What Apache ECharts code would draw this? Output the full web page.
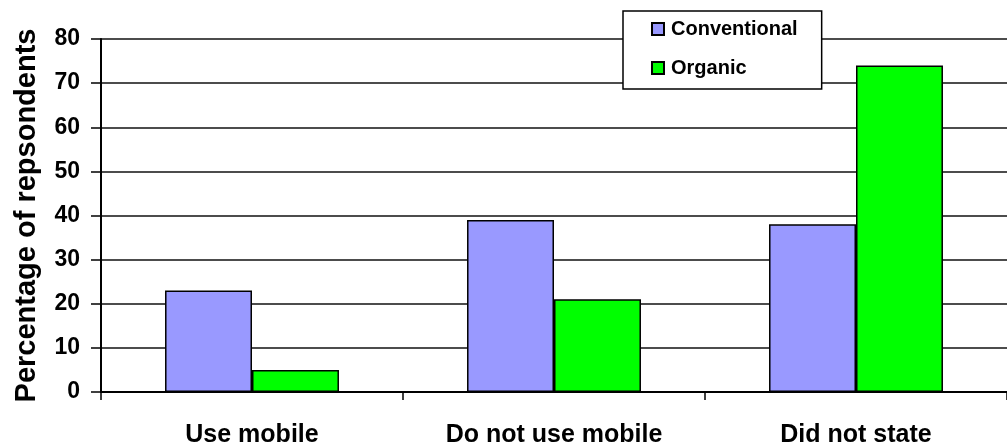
<!DOCTYPE html>
<html>
<head>
<meta charset="utf-8">
<script src="https://cdn.jsdelivr.net/npm/echarts@6/dist/echarts.min.js"></script>
<style>
html,body{margin:0;padding:0;background:#fff;}
#chart{width:1007px;height:448px;}
</style>
</head>
<body>
<div id="chart"></div>
<script>
const categories = ["Use mobile", "Do not use mobile", "Did not state"];
const conventional = [23, 39, 38];
const organic = [5, 21, 74];
const yTicks = [0, 10, 20, 30, 40, 50, 60, 70, 80];
const yAxisName = "Percentage of repsondents";

const FONT = '"Liberation Sans", Arial, sans-serif';
const chart = echarts.init(document.getElementById('chart'), null, {renderer: 'canvas'});
chart.setOption({
  animation: false,
  backgroundColor: '#fff',
  grid: {left: 101, right: 0, top: 39, bottom: 54, containLabel: false},
  legend: {
    orient: 'vertical',
    left: 623, top: 11,
    padding: [8, 24, 11, 28],
    itemGap: 19,
    itemWidth: 12, itemHeight: 12,
    icon: 'rect',
    backgroundColor: '#fff',
    borderColor: '#000',
    borderWidth: 1.5,
    textStyle: {fontFamily: FONT, fontWeight: 'bold', fontSize: 20, color: '#000', padding: [0,0,0,2]},
    data: ['Conventional', 'Organic']
  },
  xAxis: {
    type: 'category',
    data: categories,
    axisLine: {show: true, lineStyle: {color: '#000', width: 2}},
    axisTick: {show: true, length: 8, lineStyle: {color: '#000', width: 1.5}},
    axisLabel: {fontFamily: FONT, fontWeight: 'bold', fontSize: 25, color: '#000', margin: 31},
    splitLine: {show: false}
  },
  yAxis: {
    type: 'value',
    min: yTicks[0], max: yTicks[yTicks.length - 1], interval: 10,
    name: yAxisName,
    nameLocation: 'middle',
    nameGap: 60,
    nameRotate: 90,
    nameTextStyle: {fontFamily: FONT, fontWeight: 'bold', fontSize: 29, color: '#000'},
    axisLine: {show: true, lineStyle: {color: '#000', width: 2}},
    axisTick: {show: true, length: 10, lineStyle: {color: '#000', width: 1.5}},
    axisLabel: {fontFamily: FONT, fontWeight: 'bold', fontSize: 23, color: '#000', margin: 21},
    splitLine: {show: true, lineStyle: {color: '#111', width: 1.5}}
  },
  series: [
    {
      name: 'Conventional', type: 'bar', data: conventional,
      barGap: '0%', barCategoryGap: '42.4%',
      itemStyle: {color: '#9999FF', borderColor: '#000', borderWidth: 1.5}
    },
    {
      name: 'Organic', type: 'bar', data: organic,
      barGap: '0%', barCategoryGap: '42.4%',
      itemStyle: {color: '#00FF00', borderColor: '#000', borderWidth: 1.5}
    }
  ]
});
</script>
</body>
</html>
